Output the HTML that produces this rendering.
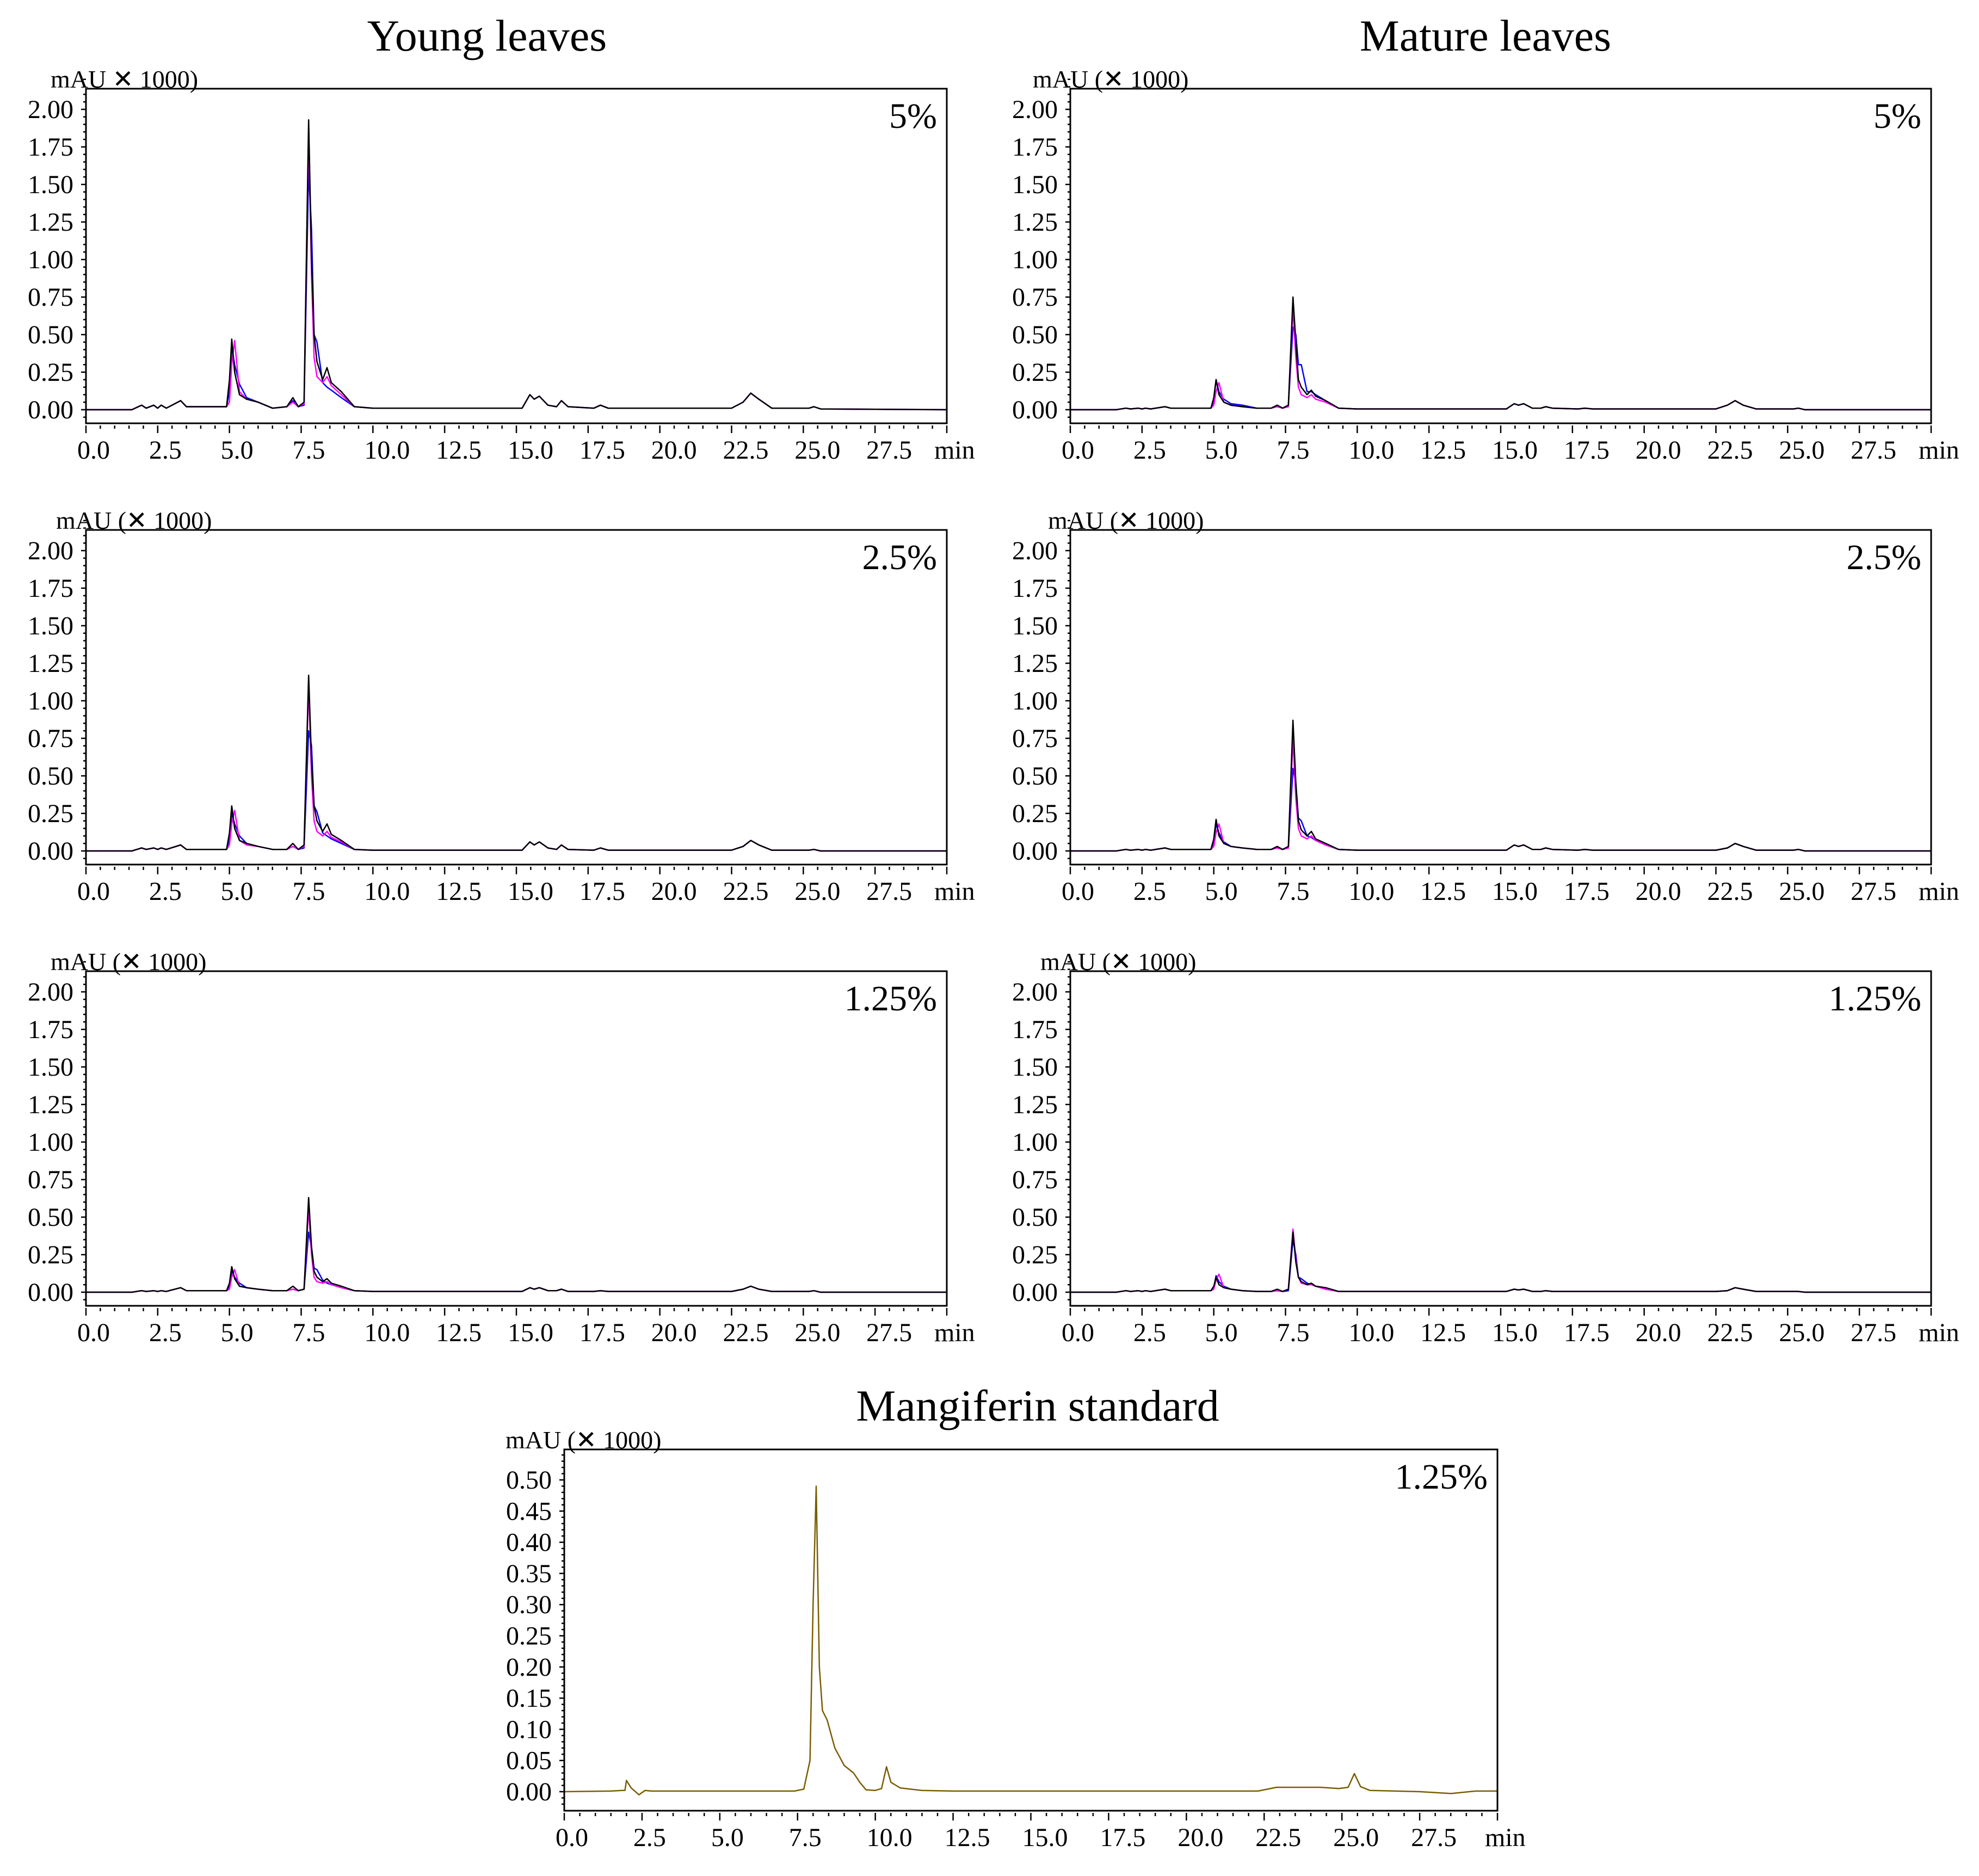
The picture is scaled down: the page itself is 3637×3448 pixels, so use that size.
<!DOCTYPE html>
<html><head><meta charset="utf-8"><style>
html,body{margin:0;padding:0;background:#fff}
svg{display:block}
text{font-family:"Liberation Serif","DejaVu Serif",serif;fill:#000}
</style></head><body>
<svg id="fig" xmlns="http://www.w3.org/2000/svg" width="3637" height="3448" viewBox="0 0 3637 3448">
<rect x="0" y="0" width="3637" height="3448" fill="#fff"/>
<text x="895" y="93" font-size="82" text-anchor="middle">Young leaves</text>
<text x="2730" y="93" font-size="82" text-anchor="middle">Mature leaves</text>
<text x="1907" y="2611" font-size="82" text-anchor="middle">Mangiferin standard</text>
</svg>
<script>
// shared retention-time grid (min) for sample chromatograms
const times = [0,1.6,1.94,2.1,2.36,2.5,2.62,2.8,3.3,3.5,
  4.9,5.0,5.08,5.18,5.35,5.6,6.0,6.5,7.0,7.21,
  7.4,7.6,7.76,7.86,7.95,8.05,8.25,8.4,8.55,8.9,
  9.35,10,15.2,15.47,15.62,15.8,16.1,16.4,16.57,16.8,
  17.7,17.93,18.2,22.5,22.9,23.17,23.45,23.9,25.2,25.37,
  25.6,30];
const xTicks = ["0.0","2.5","5.0","7.5","10.0","12.5","15.0","17.5","20.0","22.5","25.0","27.5"];
const yTicksSample = ["0.00","0.25","0.50","0.75","1.00","1.25","1.50","1.75","2.00"];
const yTicksStd = ["0.00","0.05","0.10","0.15","0.20","0.25","0.30","0.35","0.40","0.45","0.50"];

// heads (indices 0-9) and tails (indices 30-51)
const headY5 = [0,0,0.03,0.01,0.03,0.01,0.03,0.01,0.06,0.02];
const tailY5 = [0.02,0.01,0.01,0.1,0.07,0.09,0.03,0.02,0.06,0.02,0.01,0.03,0.01,0.01,0.05,0.11,0.07,0.01,0.01,0.02,0.005,0];
const headM = [0,0,0.01,0.005,0.01,0.005,0.01,0.005,0.02,0.01];
const tailM5 = [0.01,0.005,0.005,0.04,0.03,0.04,0.01,0.01,0.02,0.01,0.005,0.01,0.005,0.005,0.03,0.06,0.03,0.005,0.005,0.01,0,0];
const headY25 = [0,0,0.02,0.01,0.02,0.01,0.02,0.01,0.04,0.01];
const tailY25 = [0.01,0.005,0.005,0.06,0.04,0.06,0.02,0.01,0.04,0.01,0.005,0.02,0.005,0.005,0.03,0.07,0.04,0.005,0.005,0.01,0,0];
const tailM25 = [0.01,0.005,0.005,0.04,0.03,0.04,0.01,0.01,0.02,0.01,0.005,0.01,0.005,0.005,0.02,0.05,0.03,0.005,0.005,0.01,0,0];
const headY125 = [0,0,0.01,0.005,0.01,0.005,0.01,0.005,0.03,0.01];
const tailY125 = [0.01,0.005,0.005,0.03,0.02,0.03,0.01,0.01,0.02,0.005,0.005,0.01,0.005,0.005,0.02,0.04,0.02,0.005,0.005,0.01,0,0];
const tailM125 = [0.005,0.005,0.005,0.02,0.015,0.02,0.005,0.005,0.01,0.005,0.005,0.005,0.005,0.005,0.01,0.03,0.02,0.005,0.005,0.005,0,0];

// mid sections (indices 10-29)
const midY5Black = [0.02,0.2,0.47,0.25,0.1,0.07,0.05,0.01,0.02,0.08,0.02,0.05,1.93,1.0,0.5,0.32,0.2,0.28,0.18,0.12];
const midY5Magenta = [0.02,0.05,0.3,0.46,0.12,0.07,0.05,0.01,0.02,0.05,0.02,0.04,1.85,0.9,0.35,0.22,0.18,0.22,0.16,0.1];
const midY5Blue = [0.02,0.12,0.42,0.3,0.17,0.08,0.05,0.01,0.02,0.06,0.02,0.03,1.6,1.2,0.5,0.45,0.18,0.15,0.13,0.08];
const midM5Black = [0.01,0.08,0.2,0.1,0.05,0.03,0.02,0.01,0.01,0.03,0.01,0.03,0.75,0.45,0.2,0.15,0.1,0.13,0.09,0.06];
const midM5Magenta = [0.01,0.03,0.12,0.18,0.05,0.03,0.02,0.01,0.01,0.02,0.01,0.02,0.68,0.35,0.15,0.1,0.08,0.1,0.07,0.05];
const midM5Blue = [0.01,0.06,0.2,0.12,0.07,0.04,0.03,0.01,0.01,0.03,0.01,0.03,0.55,0.5,0.3,0.3,0.12,0.12,0.1,0.06];
const midY25Black = [0.01,0.12,0.3,0.15,0.07,0.05,0.03,0.01,0.01,0.05,0.01,0.04,1.17,0.6,0.3,0.2,0.13,0.18,0.11,0.07];
const midY25Magenta = [0.01,0.04,0.18,0.27,0.07,0.04,0.03,0.01,0.01,0.03,0.01,0.03,1.1,0.5,0.2,0.13,0.1,0.13,0.09,0.06];
const midY25Blue = [0.01,0.08,0.25,0.18,0.1,0.05,0.03,0.01,0.01,0.03,0.01,0.02,0.8,0.7,0.3,0.26,0.12,0.1,0.08,0.05];
const midM25Black = [0.01,0.08,0.21,0.1,0.05,0.03,0.02,0.01,0.01,0.03,0.01,0.03,0.87,0.45,0.2,0.14,0.1,0.13,0.08,0.05];
const midM25Magenta = [0.01,0.03,0.12,0.18,0.05,0.03,0.02,0.01,0.01,0.02,0.01,0.02,0.75,0.35,0.15,0.1,0.08,0.1,0.07,0.04];
const midM25Blue = [0.01,0.06,0.18,0.12,0.06,0.03,0.02,0.01,0.01,0.02,0.01,0.02,0.55,0.45,0.22,0.2,0.1,0.09,0.07,0.04];
const midY125Black = [0.01,0.06,0.17,0.09,0.04,0.03,0.02,0.01,0.01,0.04,0.01,0.02,0.63,0.3,0.14,0.1,0.07,0.09,0.06,0.04];
const midY125Magenta = [0.01,0.02,0.1,0.15,0.04,0.03,0.02,0.01,0.01,0.02,0.01,0.02,0.56,0.25,0.1,0.07,0.06,0.07,0.05,0.03];
const midY125Blue = [0.01,0.04,0.14,0.1,0.06,0.03,0.02,0.01,0.01,0.02,0.01,0.02,0.4,0.3,0.16,0.15,0.08,0.06,0.05,0.03];
const midM125Black = [0.01,0.04,0.1,0.05,0.03,0.02,0.01,0.005,0.005,0.02,0.005,0.02,0.4,0.2,0.1,0.07,0.05,0.06,0.04,0.03];
const midM125Magenta = [0.01,0.02,0.08,0.12,0.03,0.02,0.01,0.005,0.005,0.01,0.005,0.02,0.42,0.22,0.1,0.06,0.05,0.05,0.04,0.02];
const midM125Blue = [0.01,0.03,0.11,0.07,0.04,0.02,0.01,0.005,0.005,0.01,0.005,0.01,0.35,0.25,0.1,0.09,0.06,0.05,0.04,0.02];

// mangiferin standard
const stdTimes = [0,1.5,1.85,1.95,2.0,2.15,2.4,2.6,2.8,7.4,7.7,7.9,8.0,8.1,8.2,8.3,8.45,8.7,9.0,9.3,9.5,9.7,10.0,10.2,10.36,10.5,10.8,11.5,12.5,22.3,22.9,24.3,24.9,25.2,25.4,25.6,25.9,27.5,28.5,29.3,30];
const stdValues = [0,0.001,0.002,0.002,0.018,0.006,-0.005,0.002,0.001,0.001,0.004,0.05,0.3,0.49,0.2,0.13,0.115,0.07,0.042,0.03,0.015,0.003,0.002,0.005,0.04,0.015,0.006,0.002,0.001,0.001,0.007,0.007,0.005,0.007,0.029,0.008,0.002,0.0,-0.003,0.001,0.001];

const NS = "http://www.w3.org/2000/svg";
const svg = document.getElementById("fig");
function mk(tag, attrs, parent){ const e=document.createElementNS(NS,tag); for(const k in attrs) e.setAttribute(k,attrs[k]); (parent||svg).appendChild(e); return e; }

function drawPanel(p){
  const g = mk("g",{});
  
  
  const xs = t => p.x0 + (t - 0) / 30 * (p.x1 - p.x0);
  const ys = v => p.y0 - v * p.unit;
  p.series.forEach(s => {
    let d = "";
    s.t.forEach((t,i)=>{ d += (i?"L":"M") + xs(t).toFixed(1) + "," + ys(s.v[i]).toFixed(1); });
    const path = mk("path",{d:d, fill:"none", stroke:s.color, "stroke-width":"2.5", "stroke-linejoin":"round"}, g);
    
    
  });
  const box = mk("rect",{x:p.x0,y:p.top,width:p.x1-p.x0,height:p.bottom-p.top,fill:"none",stroke:"#000","stroke-width":"3"}, g);
  
  
  const yAx = mk("g",{}, g);
  
  
  for(let i=p.yMinorFrom;i<=p.yMinorTo;i++){
    const v = i*p.yMinorStep; const y = ys(v);
    const major = (i % p.yMajorEvery)===0;
    mk("line",{x1:p.x0-(major?9:5),x2:p.x0,y1:y,y2:y,stroke:"#000","stroke-width":"2.5"}, yAx);
  }
  p.yLabels.forEach((lab,i)=>{
    const t = mk("text",{x:p.x0-23,y:ys(parseFloat(lab))+16,"font-size":"48","text-anchor":"end"}, yAx);
    t.textContent = lab;
    
    
  });
  const xAx = mk("g",{}, g);
  
  
  for(let i=0;i<=60;i++){
    const x = xs(i*0.5); const major = i%5===0;
    mk("line",{x1:x,x2:x,y1:p.bottom+4,y2:p.bottom+(major?18:10),stroke:"#000","stroke-width":"2.5"}, xAx);
  }
  xTicks.forEach(lab=>{
    const t = mk("text",{x:xs(parseFloat(lab))-16,y:p.bottom+65,"font-size":"48"}, xAx);
    t.textContent = lab;
    
    
  });
  const mn = mk("text",{x:p.x1-23,y:p.bottom+65,"font-size":"48"}, xAx);
  mn.textContent = "min";
  
  
  const ul = mk("text",{x:p.unitX,y:p.top-2,"font-size":"46"}, g);
  ul.textContent = p.unitText;
  
  
  const cl = mk("text",{x:p.x1-18,y:p.top+72,"font-size":"66","text-anchor":"end"}, g);
  cl.textContent = p.conc;
  
  
}

const tops = [163, 974, 1785];
const concs = ["5%","2.5%","1.25%"];
const cols = [{x0:158,x1:1740,key:"Y"},{x0:1967,x1:3549,key:"M"}];
const heads = {Y:[headY5,headY25,headY125], M:[headM,headM,headM]};
const tails = {Y:[tailY5,tailY25,tailY125], M:[tailM5,tailM25,tailM125]};
const mids = {
  Y:[[midY5Black,midY5Magenta,midY5Blue],[midY25Black,midY25Magenta,midY25Blue],[midY125Black,midY125Magenta,midY125Blue]],
  M:[[midM5Black,midM5Magenta,midM5Blue],[midM25Black,midM25Magenta,midM25Blue],[midM125Black,midM125Magenta,midM125Blue]]
};
const unitTexts = {Y:["mAU \u2715 1000)","mAU (\u2715 1000)","mAU (\u2715 1000)"], M:["mAU (\u2715 1000)","mAU (\u2715 1000)","mAU (\u2715 1000)"]};
const unitXs = {Y:[93,103,93], M:[1898,1926,1912]};
const seriesColors = ["#000000","#ff00ff","#0000ff"];
const seriesNames = ["black-trace","magenta-trace","blue-trace"];

cols.forEach(c=>{
  tops.forEach((top,r)=>{
    const ser = [2,1,0].map(k=>({
      name: seriesNames[k], color: seriesColors[k], t: times,
      v: heads[c.key][r].concat(mids[c.key][r][k], tails[c.key][r])
    }));
    drawPanel({
      name: (c.key==="Y"?"young":"mature")+"-leaves-"+concs[r].replace("%","pct").replace(".","-")+"-panel",
      x0:c.x0, x1:c.x1, top:top, bottom:top+615, y0:top+590, unit:276,
      yMinorFrom:-1, yMinorTo:44, yMinorStep:0.05, yMajorEvery:5,
      yLabels: yTicksSample, series: ser, conc: concs[r],
      unitText: unitTexts[c.key][r], unitX: unitXs[c.key][r]
    });
  });
});

drawPanel({
  name:"mangiferin-standard-panel",
  x0:1037, x1:2752, top:2664, bottom:3328, y0:3293, unit:1146,
  yMinorFrom:-2, yMinorTo:54, yMinorStep:0.01, yMajorEvery:5,
  yLabels: yTicksStd,
  series:[{name:"mangiferin-trace", color:"#7a5c00", t:stdTimes, v:stdValues}],
  conc:"1.25%", unitText:"mAU (\u2715 1000)", unitX:929
});
</script>
</body></html>
